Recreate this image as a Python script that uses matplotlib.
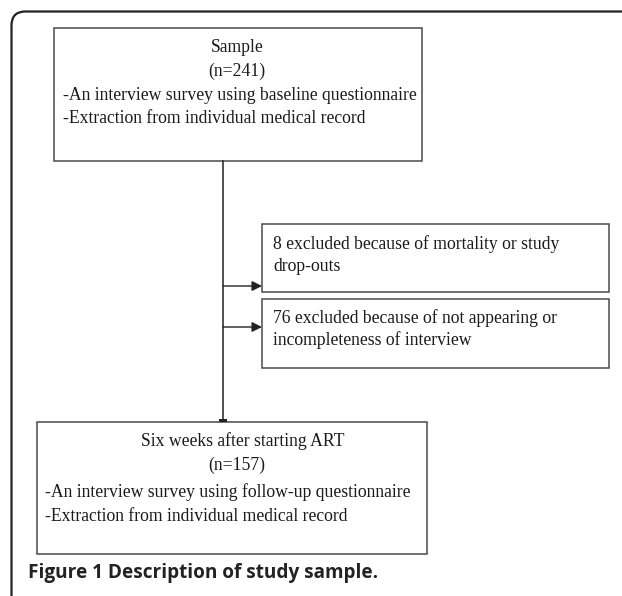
import matplotlib.pyplot as plt
from matplotlib.patches import Rectangle, PathPatch, FancyArrowPatch
from matplotlib.path import Path

# box texts
top_title = ["Sample", "(n=241)"]
top_items = ["-An interview survey using baseline questionnaire",
             "-Extraction from individual medical record"]
excl_1 = ["8 excluded because of mortality or study", "drop-outs"]
excl_2 = ["76 excluded because of not appearing or", "incompleteness of interview"]
bottom_title = ["Six weeks after starting ART", "(n=157)"]
bottom_items = ["-An interview survey using follow-up questionnaire",
                "-Extraction from individual medical record"]
caption = "Figure 1 Description of study sample."

W, H = 622, 596
fig = plt.figure(figsize=(W / 100, H / 100), dpi=100)
ax = fig.add_axes([0, 0, 1, 1])
ax.set_xlim(0, W)
ax.set_ylim(H, 0)
ax.axis('off')

serif = dict(family='Liberation Serif', fontsize=12.7, color='#1a1a1a')
edge = '#4a4a4a'

# outer frame: only top and left, rounded corner
r = 14
x0, y0 = 11.5, 11.5
verts = [(W, y0), (x0 + r, y0), (x0, y0), (x0, y0 + r), (x0, H)]
codes = [Path.MOVETO, Path.LINETO, Path.CURVE3, Path.CURVE3, Path.LINETO]
ax.add_patch(PathPatch(Path(verts, codes), fill=False, lw=1.6, edgecolor='#222222'))


def box(x, y, w, h):
    ax.add_patch(Rectangle((x, y), w, h, fill=False, lw=1.1, edgecolor=edge))


# top box
box(54, 28, 368, 133)
ax.text(237, 47, top_title[0], ha='center', va='center', **serif)
ax.text(237, 71, top_title[1], ha='center', va='center', **serif)
for i, s in enumerate(top_items):
    ax.text(63, 95 + 23.5 * i, s, ha='left', va='center', **serif)

# exclusion boxes
box(262, 224, 347, 68)
for i, s in enumerate(excl_1):
    ax.text(273, 244 + 22.5 * i, s, ha='left', va='center', **serif)
box(262, 299, 347, 69)
for i, s in enumerate(excl_2):
    ax.text(273, 318 + 22.5 * i, s, ha='left', va='center', **serif)

# bottom box
box(37, 422, 390, 132)
ax.text(243, 441, bottom_title[0], ha='center', va='center', **serif)
ax.text(237, 465, bottom_title[1], ha='center', va='center', **serif)
for i, s in enumerate(bottom_items):
    ax.text(45, 492 + 24.5 * i, s, ha='left', va='center', **serif)

# connectors
ax.plot([223, 223], [161, 419], color='#222222', lw=1.1)
ax.add_patch(Rectangle((219, 419), 8, 3, color='#222222', lw=0))
for yy in (286, 327):
    ax.add_patch(FancyArrowPatch((223, yy), (262, yy), arrowstyle='-|>,head_length=6,head_width=3',
                                 mutation_scale=1, color='#222222', lw=1.0, shrinkA=0, shrinkB=0))

ax.text(28, 573, caption, ha='left', va='center', family='Open Sans', fontweight='bold',
        fontsize=13.7, color='#222222')

fig.savefig('out.png', dpi=100)
